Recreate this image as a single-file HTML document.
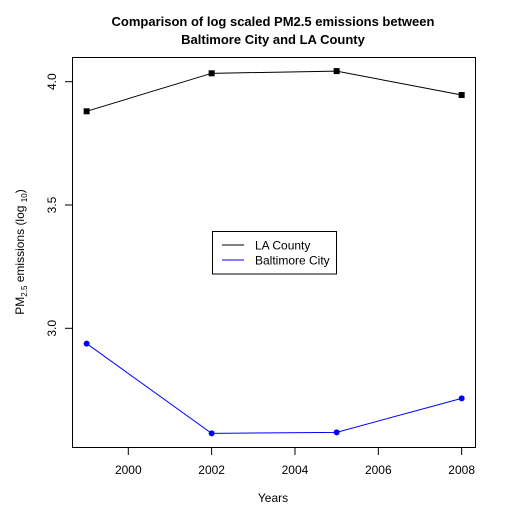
<!DOCTYPE html>
<html><head><meta charset="utf-8"><style>
body{margin:0;background:#fff}
text{font-family:"Liberation Sans",Arial,sans-serif}
</style></head><body>
<svg id="chart" width="520" height="520" xmlns="http://www.w3.org/2000/svg">
<rect width="520" height="520" fill="#fff"/>
<text x="273" y="26" text-anchor="middle" font-size="13" font-weight="bold">Comparison of log scaled PM2.5 emissions between</text>
<text x="273" y="44" text-anchor="middle" font-size="13" font-weight="bold">Baltimore City and LA County</text>
<rect x="72.5" y="57.5" width="403" height="390" fill="none" stroke="#000"/>
<g id="xaxis"></g>
<g id="yaxis"></g>
<g id="series"></g>
<text x="273" y="502" text-anchor="middle" font-size="12">Years</text>
<text transform="translate(24,252) rotate(-90)" text-anchor="middle" font-size="12">PM<tspan font-size="8" dy="3">2.5</tspan><tspan dy="-3"> emissions (log </tspan><tspan font-size="8" dy="3">10</tspan><tspan dy="-3">)</tspan></text>
<g>
<rect x="212.5" y="231.5" width="124" height="42.5" fill="#fff" stroke="#000"/>
<line x1="222" y1="245" x2="244" y2="245" stroke="#000"/>
<text x="255" y="249.5" font-size="12">LA County</text>
<line x1="222" y1="260" x2="244" y2="260" stroke="#0000ff"/>
<text x="255" y="264.5" font-size="12">Baltimore City</text>
</g>
</svg>
<script>
const years = [1999, 2002, 2005, 2008];
const laValues = [3.88, 4.034, 4.043, 3.946];
const baltimoreValues = [2.938, 2.574, 2.578, 2.716];
const xTicks = [2000, 2002, 2004, 2006, 2008];
const yTicks = [3.0, 3.5, 4.0];
const yTickLabels = ["3.0", "3.5", "4.0"];

const NS = "http://www.w3.org/2000/svg";
function xs(v){ return 128.3 + (v - 2000) * 41.67; }
function ys(v){ return 81.7 - (v - 4.0) * 246.6; }
function mk(tag, attrs, parent){
  const e = document.createElementNS(NS, tag);
  for (const k in attrs) e.setAttribute(k, attrs[k]);
  parent.appendChild(e);
  return e;
}
const xa = document.getElementById('xaxis');
xTicks.forEach(t => {
  const l = mk('line', {x1: xs(t), x2: xs(t), y1: 447.5, y2: 455, stroke: '#000'}, xa);
  
  
  const tx = mk('text', {x: xs(t), y: 474, 'text-anchor': 'middle', 'font-size': 12}, xa);
  tx.textContent = t;
  
  
});
const ya = document.getElementById('yaxis');
yTicks.forEach((t, i) => {
  const l = mk('line', {x1: 65, x2: 72.5, y1: ys(t), y2: ys(t), stroke: '#000'}, ya);
  
  
  const tx = mk('text', {transform: `translate(56,${ys(t)}) rotate(-90)`, 'text-anchor': 'middle', 'font-size': 12}, ya);
  tx.textContent = yTickLabels[i];
  
  
});
const sg = document.getElementById('series');
function drawSeries(vals, color, name, square){
  const pts = years.map((y, i) => xs(y) + ',' + ys(vals[i])).join(' ');
  const pl = mk('polyline', {points: pts, fill: 'none', stroke: color, 'stroke-width': 1}, sg);
  
  
  years.forEach((y, i) => {
    let m;
    if (square) m = mk('rect', {x: xs(y) - 3, y: ys(vals[i]) - 3, width: 6, height: 6, fill: color}, sg);
    else m = mk('circle', {cx: xs(y), cy: ys(vals[i]), r: 3, fill: color}, sg);
    
    
  });
}
drawSeries(laValues, '#000', 'la-county', true);
drawSeries(baltimoreValues, '#0000ff', 'baltimore-city', false);
</script>
</body></html>
